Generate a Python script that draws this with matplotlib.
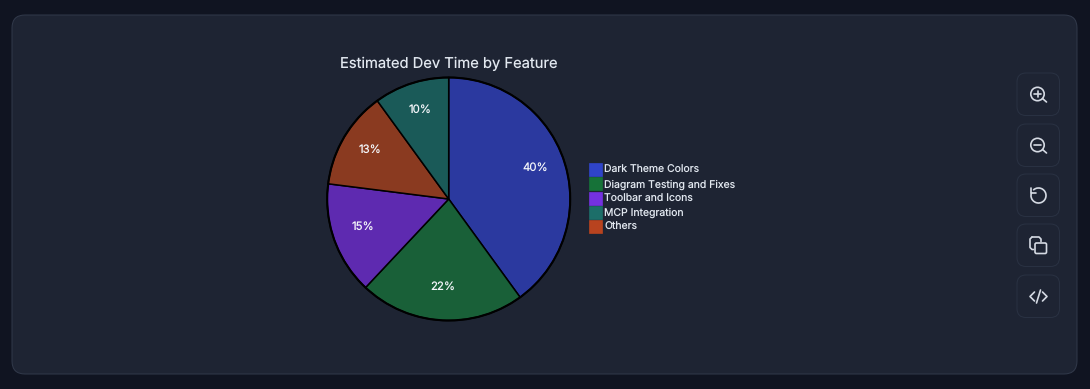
import matplotlib
matplotlib.use("Agg")
import matplotlib.pyplot as plt
from matplotlib.patches import FancyBboxPatch, Circle, Rectangle, Arc

plt.rcParams["font.family"] = ["Inter", "DejaVu Sans"]
plt.rcParams["text.hinting"] = "no_hinting"
plt.rcParams["text.hinting_factor"] = 1

# data
slice_labels = ["Dark Theme Colors", "Diagram Testing and Fixes", "Toolbar and Icons", "Others", "MCP Integration"]
slice_values = [40, 22, 15, 13, 10]
slice_colors = ["#2b399f", "#196038", "#5e2ab0", "#8a3a20", "#1a5a58"]
legend_labels = ["Dark Theme Colors", "Diagram Testing and Fixes", "Toolbar and Icons", "MCP Integration", "Others"]
legend_colors = ["#2f44c9", "#167238", "#7431e0", "#1c6e69", "#b8431f"]

BG = "#101421"
PANEL = "#1e2433"
BORDER = "#323a4b"
TXT = "#e2e8f0"
ICON = "#d5dae3"
H = 389

fig = plt.figure(figsize=(10.9, 3.89), dpi=100, facecolor=BG)
ax = fig.add_axes([0, 0, 1, 1])


def Y(y):
    return H - y


def rbox(x0, y0, x1, y1, r, fc, ec, lw=0.8):
    ax.add_patch(FancyBboxPatch((x0 + r, Y(y1) + r), x1 - x0 - 2 * r, y1 - y0 - 2 * r,
                 boxstyle=f"round,pad={r},rounding_size={r}", fc=fc, ec=ec, lw=lw))


def line(xs, ys, lw=1.2):
    ax.plot(xs, [Y(v) for v in ys], color=ICON, lw=lw, solid_capstyle="round",
            solid_joinstyle="round")


rbox(12, 15, 1077, 374, 13, PANEL, BORDER, 0.7)

# pie
wedges, _, pcts = ax.pie(slice_values, colors=slice_colors, center=(448.7, Y(199)), radius=121.5,
                         startangle=90, counterclock=False, autopct="%.0f%%", pctdistance=0.75,
                         wedgeprops=dict(edgecolor="black", linewidth=1.1),
                         textprops=dict(color="#f4f6fa", fontsize=8.2), frame=True)
for t in pcts:
    px, py = t.get_position()
    t.set_position((px, py + 3))
ax.add_patch(Circle((448.7, Y(199)), 121.5, fc="none", ec="black", lw=1.5))

ax.set_xlim(0, 1090)
ax.set_ylim(0, H)
ax.set_aspect("auto")
ax.axis("off")

ax.text(448.5, Y(63.5), "Estimated Dev Time by Feature", ha="center", va="center",
        fontsize=10.6, color=TXT)

# legend
legend_top = [163, 177.3, 191.5, 205.8, 220]
for top, lb, c in zip(legend_top, legend_labels, legend_colors):
    ax.add_patch(Rectangle((589, Y(top + 13)), 13, 13, fc=c, ec=c, lw=0.5))
    ax.text(604.5, Y(top + 10.3), lb, ha="left", va="baseline", fontsize=7.5, color=TXT)

# toolbar buttons
btn_top = [73, 124, 174, 224, 275]
for t in btn_top:
    rbox(1017, t, 1059.5, t + 42.5, 9, PANEL, "#2a3243", 0.7)

CX = 1038
# zoom in
cy = 94
ax.add_patch(Circle((CX - 0.5, Y(cy)), 6.7, fc="none", ec=ICON, lw=1.2))
line([CX + 4.5, CX + 8.5], [cy + 4.5, cy + 8])
line([CX - 3.8, CX + 2.8], [cy, cy])
line([CX - 0.5, CX - 0.5], [cy - 3.3, cy + 3.3])
# zoom out
cy = 145
ax.add_patch(Circle((CX - 0.5, Y(cy)), 6.7, fc="none", ec=ICON, lw=1.2))
line([CX + 4.5, CX + 8.5], [cy + 4.5, cy + 8])
line([CX - 3.8, CX + 2.8], [cy, cy])
# reset
cy = 195.5
ax.add_patch(Arc((CX + 0.5, Y(cy)), 15, 15, theta1=-205, theta2=135, ec=ICON, lw=1.2))
line([CX - 7, CX - 7, CX - 2], [cy - 7.5, cy - 2.5, cy - 2.5])
# copy
cy = 246
rbox(CX - 3, cy - 3, CX + 8.5, cy + 7.5, 1.5, PANEL, ICON, 1.2)
line([CX - 4.5, CX - 6, CX - 8, CX - 8, CX - 6], [cy + 3.5, cy + 3.5, cy + 1.5, cy - 7, cy - 9])
line([CX - 6, CX + 1, CX + 3, CX + 3], [cy - 9, cy - 9, cy - 7, cy - 4.5])
# code
cy = 296.5
line([CX - 3.5, CX - 8, CX - 3.5], [cy - 4.5, cy, cy + 4.5])
line([CX + 4.5, CX + 9, CX + 4.5], [cy - 4.5, cy, cy + 4.5])
line([CX + 2.5, CX - 1.5], [cy - 6.5, cy + 6.5])

fig.savefig("out.png", dpi=100, facecolor=BG)
